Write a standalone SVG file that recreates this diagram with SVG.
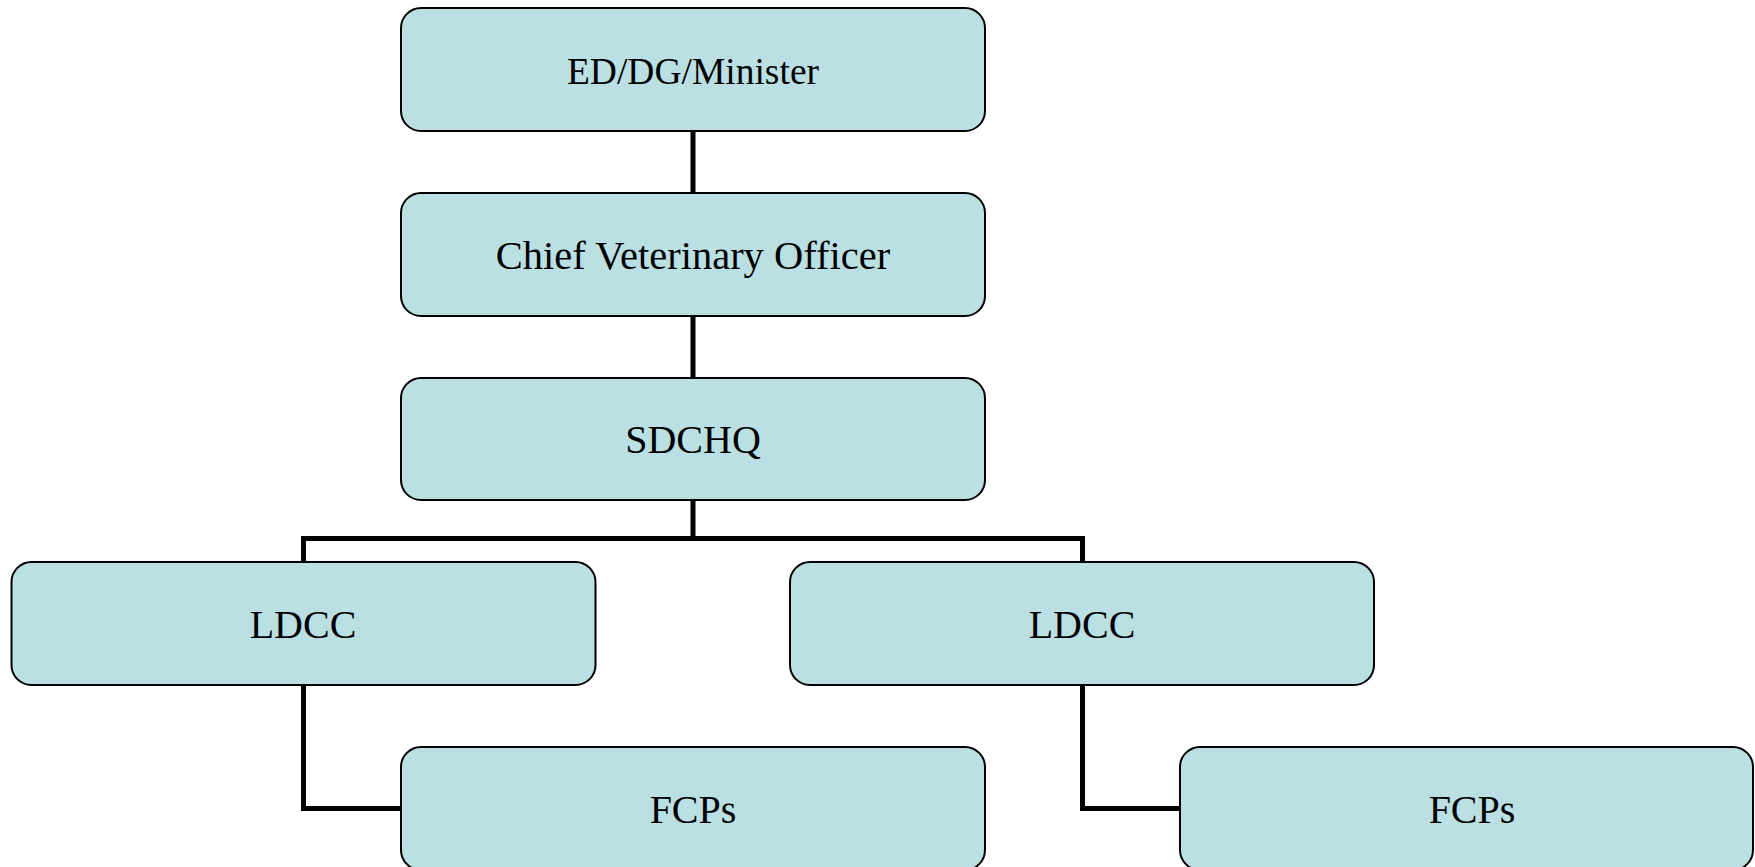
<svg xmlns="http://www.w3.org/2000/svg" width="1755" height="867" viewBox="0 0 1755 867">
<style>
.box{fill:#BAE0E3;stroke:#000;stroke-width:2}
.lbl{font-family:"Liberation Serif","Times New Roman",serif;font-size:40px;fill:#000;text-anchor:middle}
.con{fill:none;stroke:#000;stroke-width:5;stroke-linejoin:miter;stroke-linecap:butt}
</style>
<rect width="1755" height="867" fill="#fff"/>
<g id="connectors">
<path class="con" d="M693,131 V193"/>
<path class="con" d="M693,316 V378"/>
<path class="con" d="M693,500 V538.5 M303.5,562 V538.5 H1082.5 V562"/>
<path class="con" d="M303.5,685 V808.5 H401"/>
<path class="con" d="M1082.5,685 V808.5 H1180"/>
</g>
<g id="n1"><rect class="box" x="401" y="8" width="584" height="123" rx="20"/><text class="lbl" x="693" y="84" style="font-size:37.5px">ED/DG/Minister</text></g>
<g id="n2"><rect class="box" x="401" y="193" width="584" height="123" rx="20"/><text class="lbl" x="693" y="269" style="font-size:40.5px">Chief Veterinary Officer</text></g>
<g id="n3"><rect class="box" x="401" y="378" width="584" height="122" rx="20"/><text class="lbl" x="693" y="453">SDCHQ</text></g>
<g id="n4"><rect class="box" x="11.5" y="562" width="584" height="123" rx="20"/><text class="lbl" x="303" y="638">LDCC</text></g>
<g id="n5"><rect class="box" x="790" y="562" width="584" height="123" rx="20"/><text class="lbl" x="1082" y="638">LDCC</text></g>
<g id="n6"><rect class="box" x="401" y="747" width="584" height="123" rx="20"/><text class="lbl" x="693" y="823">FCPs</text></g>
<g id="n7"><rect class="box" x="1180" y="747" width="573" height="123" rx="20"/><text class="lbl" x="1472" y="823">FCPs</text></g>
</svg>
